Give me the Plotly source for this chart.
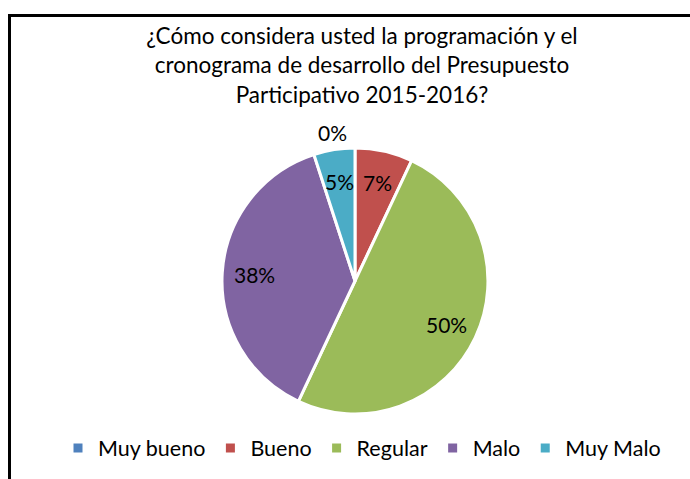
import math
import plotly.graph_objects as go

categories = ["Muy bueno", "Bueno", "Regular", "Malo", "Muy Malo"]
values = [0, 7, 50, 38, 5]
colors = ["#4F81BD", "#C0504D", "#9BBB59", "#8064A2", "#4BACC6"]
title_text = "¿Cómo considera usted la programación y el<br>cronograma de desarrollo del Presupuesto<br>Participativo 2015-2016?"

W, H = 690, 479
FONT = "Lato, 'Open Sans', sans-serif"

# pie geometry (pixels)
CX, CY, R = 355, 281, 133

fig = go.Figure(go.Pie(
    labels=categories,
    values=values,
    textinfo="none",
    marker=dict(colors=colors, line=dict(color="#FFFFFF", width=3)),
    sort=False,
    direction="clockwise",
    rotation=0,
    domain=dict(x=[(CX - R) / W, (CX + R) / W], y=[(H - CY - R) / H, (H - CY + R) / H]),
    showlegend=True,
    hoverinfo="label+percent",
))

# data labels placed like the spreadsheet default (derived from the values)
total = sum(values)
annotations = []
cum = 0
for cat, v in zip(categories, values):
    mid = (cum + v / 2) / total * 2 * math.pi
    cum += v
    txt = f"{round(v / total * 100)}%"
    if v == 0:
        r = R * 1.12
        x = CX + r * math.sin(mid) - 6
        y = CY - r * math.cos(mid)
        xanchor = "right"
    else:
        r = R * 0.76
        x = CX + r * math.sin(mid)
        y = CY - r * math.cos(mid)
        xanchor = "center"
    annotations.append(dict(
        text=txt, x=x / W, y=1 - y / H, xref="paper", yref="paper",
        xanchor=xanchor, yanchor="middle", showarrow=False,
        font=dict(family=FONT, size=21, color="#000000"),
    ))

fig.update_layout(
    width=W, height=H,
    margin=dict(l=0, r=0, t=0, b=0),
    paper_bgcolor="#FFFFFF",
    plot_bgcolor="#FFFFFF",
    title=dict(text=title_text, x=362 / W, xanchor="center", y=1 - 44 / H, yanchor="top",
               font=dict(family=FONT, size=22.5, color="#000000")),
    legend=dict(orientation="h", x=362 / W, xanchor="center", y=1 - 448 / H, yanchor="middle",
                font=dict(family=FONT, size=21.5, color="#000000"),
                traceorder="normal"),
    annotations=annotations,
    shapes=[
        dict(type="line", xref="paper", yref="paper", x0=9.5 / W, x1=1, y0=1 - 15.5 / H, y1=1 - 15.5 / H,
             line=dict(color="#000000", width=3)),
        dict(type="line", xref="paper", yref="paper", x0=9.5 / W, x1=9.5 / W, y0=0, y1=1 - 14 / H,
             line=dict(color="#000000", width=3)),
    ],
)

fig.write_html("out.html", config={"displayModeBar": False},
               post_script="document.body.style.margin='0';")
